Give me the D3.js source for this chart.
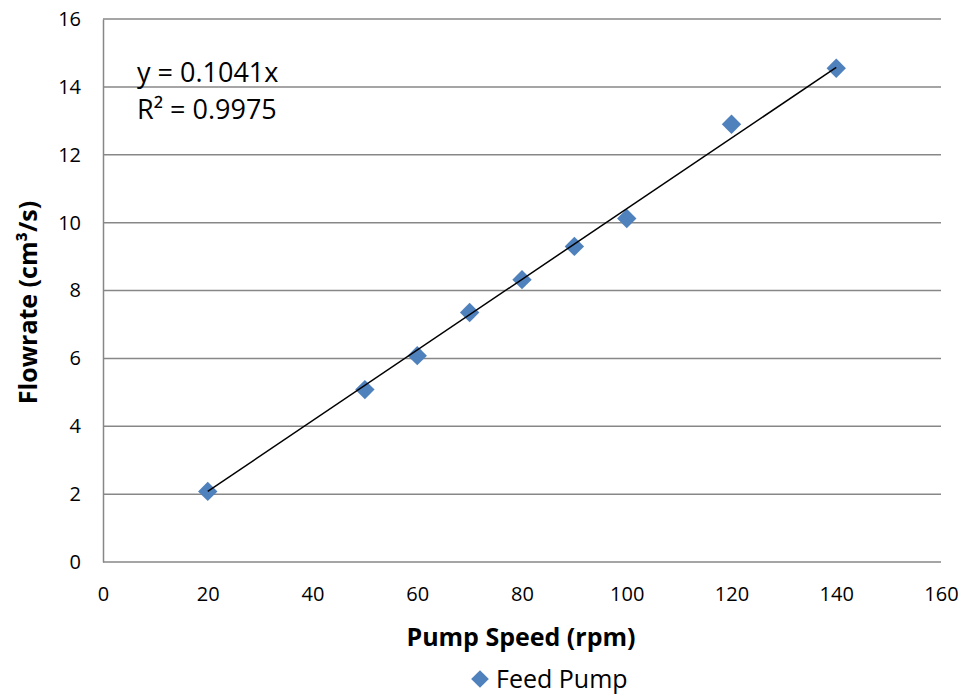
<!DOCTYPE html>
<html>
<head>
<meta charset="utf-8">
<script src="https://cdn.jsdelivr.net/npm/d3@7"></script>
<style>
  body { margin: 0; background: #fff; }
  text { font-family: "Open Sans", Lato, sans-serif; fill: #000; }
</style>
</head>
<body>
<svg id="chart" width="967" height="698"></svg>
<script>
// data
const speeds = [20, 50, 60, 70, 80, 90, 100, 120, 140];
const flowrates = [2.08, 5.08, 6.08, 7.35, 8.32, 9.3, 10.12, 12.9, 14.55];
const slope = 0.1041;
const xTicks = [0, 20, 40, 60, 80, 100, 120, 140, 160];
const yTicks = [0, 2, 4, 6, 8, 10, 12, 14, 16];

const margin = { top: 19, right: 26, bottom: 136, left: 103 },
    width = 967 - margin.left - margin.right,
    height = 698 - margin.top - margin.bottom;

const svg = d3.select("#chart")
    .append("g")
    .attr("transform", `translate(${margin.left},${margin.top})`);

const x = d3.scaleLinear().domain([0, 160]).range([0, width]);
const y = d3.scaleLinear().domain([0, 16]).range([height, 0]);

// gridlines
svg.append("g")
    .selectAll("line")
    .data(yTicks)
    .enter()
    .append("line")
    .attr("x1", 0)
    .attr("x2", width)
    .attr("y1", d => y(d))
    .attr("y2", d => y(d))
    .attr("stroke", "#878787")
    .attr("stroke-width", 1.5);

// y axis
const yAxis = svg.append("g")
    .call(d3.axisLeft(y).tickValues(yTicks).tickSize(0).tickPadding(22));
yAxis.select(".domain").attr("stroke", "#878787").attr("stroke-width", 1.5);
yAxis.selectAll("text").style("font-size", "20px").attr("fill", "#000");

// x axis
const xAxis = svg.append("g")
    .attr("transform", `translate(0,${height})`)
    .call(d3.axisBottom(x).tickValues(xTicks).tickSize(0).tickPadding(25));
xAxis.select(".domain").remove();
xAxis.selectAll("text").style("font-size", "20px").attr("fill", "#000");

// points
const diamond = d3.symbol().type(d3.symbolDiamond2).size(240);
svg.selectAll(".pt")
    .data(speeds)
    .enter()
    .append("path")
    .attr("class", "pt")
    .attr("d", diamond)
    .attr("transform", (d, i) => `translate(${x(d)},${y(flowrates[i])})`)
    .attr("fill", "#4F81BD");

// trendline drawn over markers
svg.append("line")
    .attr("x1", x(d3.min(speeds)))
    .attr("y1", y(slope * d3.min(speeds)))
    .attr("x2", x(d3.max(speeds)))
    .attr("y2", y(slope * d3.max(speeds)))
    .attr("stroke", "#000")
    .attr("stroke-width", 1.5);

// equation label
svg.append("text")
    .attr("x", 34)
    .attr("y", 63)
    .style("font-size", "27px")
    .text("y = 0.1041x");
svg.append("text")
    .attr("x", 34)
    .attr("y", 100)
    .style("font-size", "27px")
    .text("R² = 0.9975");

// axis titles
svg.append("text")
    .attr("x", width / 2 - 1)
    .attr("y", height + 84)
    .attr("text-anchor", "middle")
    .style("font-size", "25px")
    .style("font-weight", "bold")
    .text("Pump Speed (rpm)");

svg.append("text")
    .attr("transform", `translate(${-66},${height / 2 + 12}) rotate(-90)`)
    .attr("text-anchor", "middle")
    .style("font-size", "25px")
    .style("font-weight", "bold")
    .text("Flowrate (cm³/s)");

// legend
const legend = svg.append("g")
    .attr("transform", `translate(${width / 2 - 42},${height + 117})`);
legend.append("path")
    .attr("d", d3.symbol().type(d3.symbolDiamond2).size(200))
    .attr("fill", "#4F81BD");
legend.append("text")
    .attr("x", 16)
    .attr("y", 9)
    .style("font-size", "25px")
    .text("Feed Pump");
</script>
</body>
</html>
